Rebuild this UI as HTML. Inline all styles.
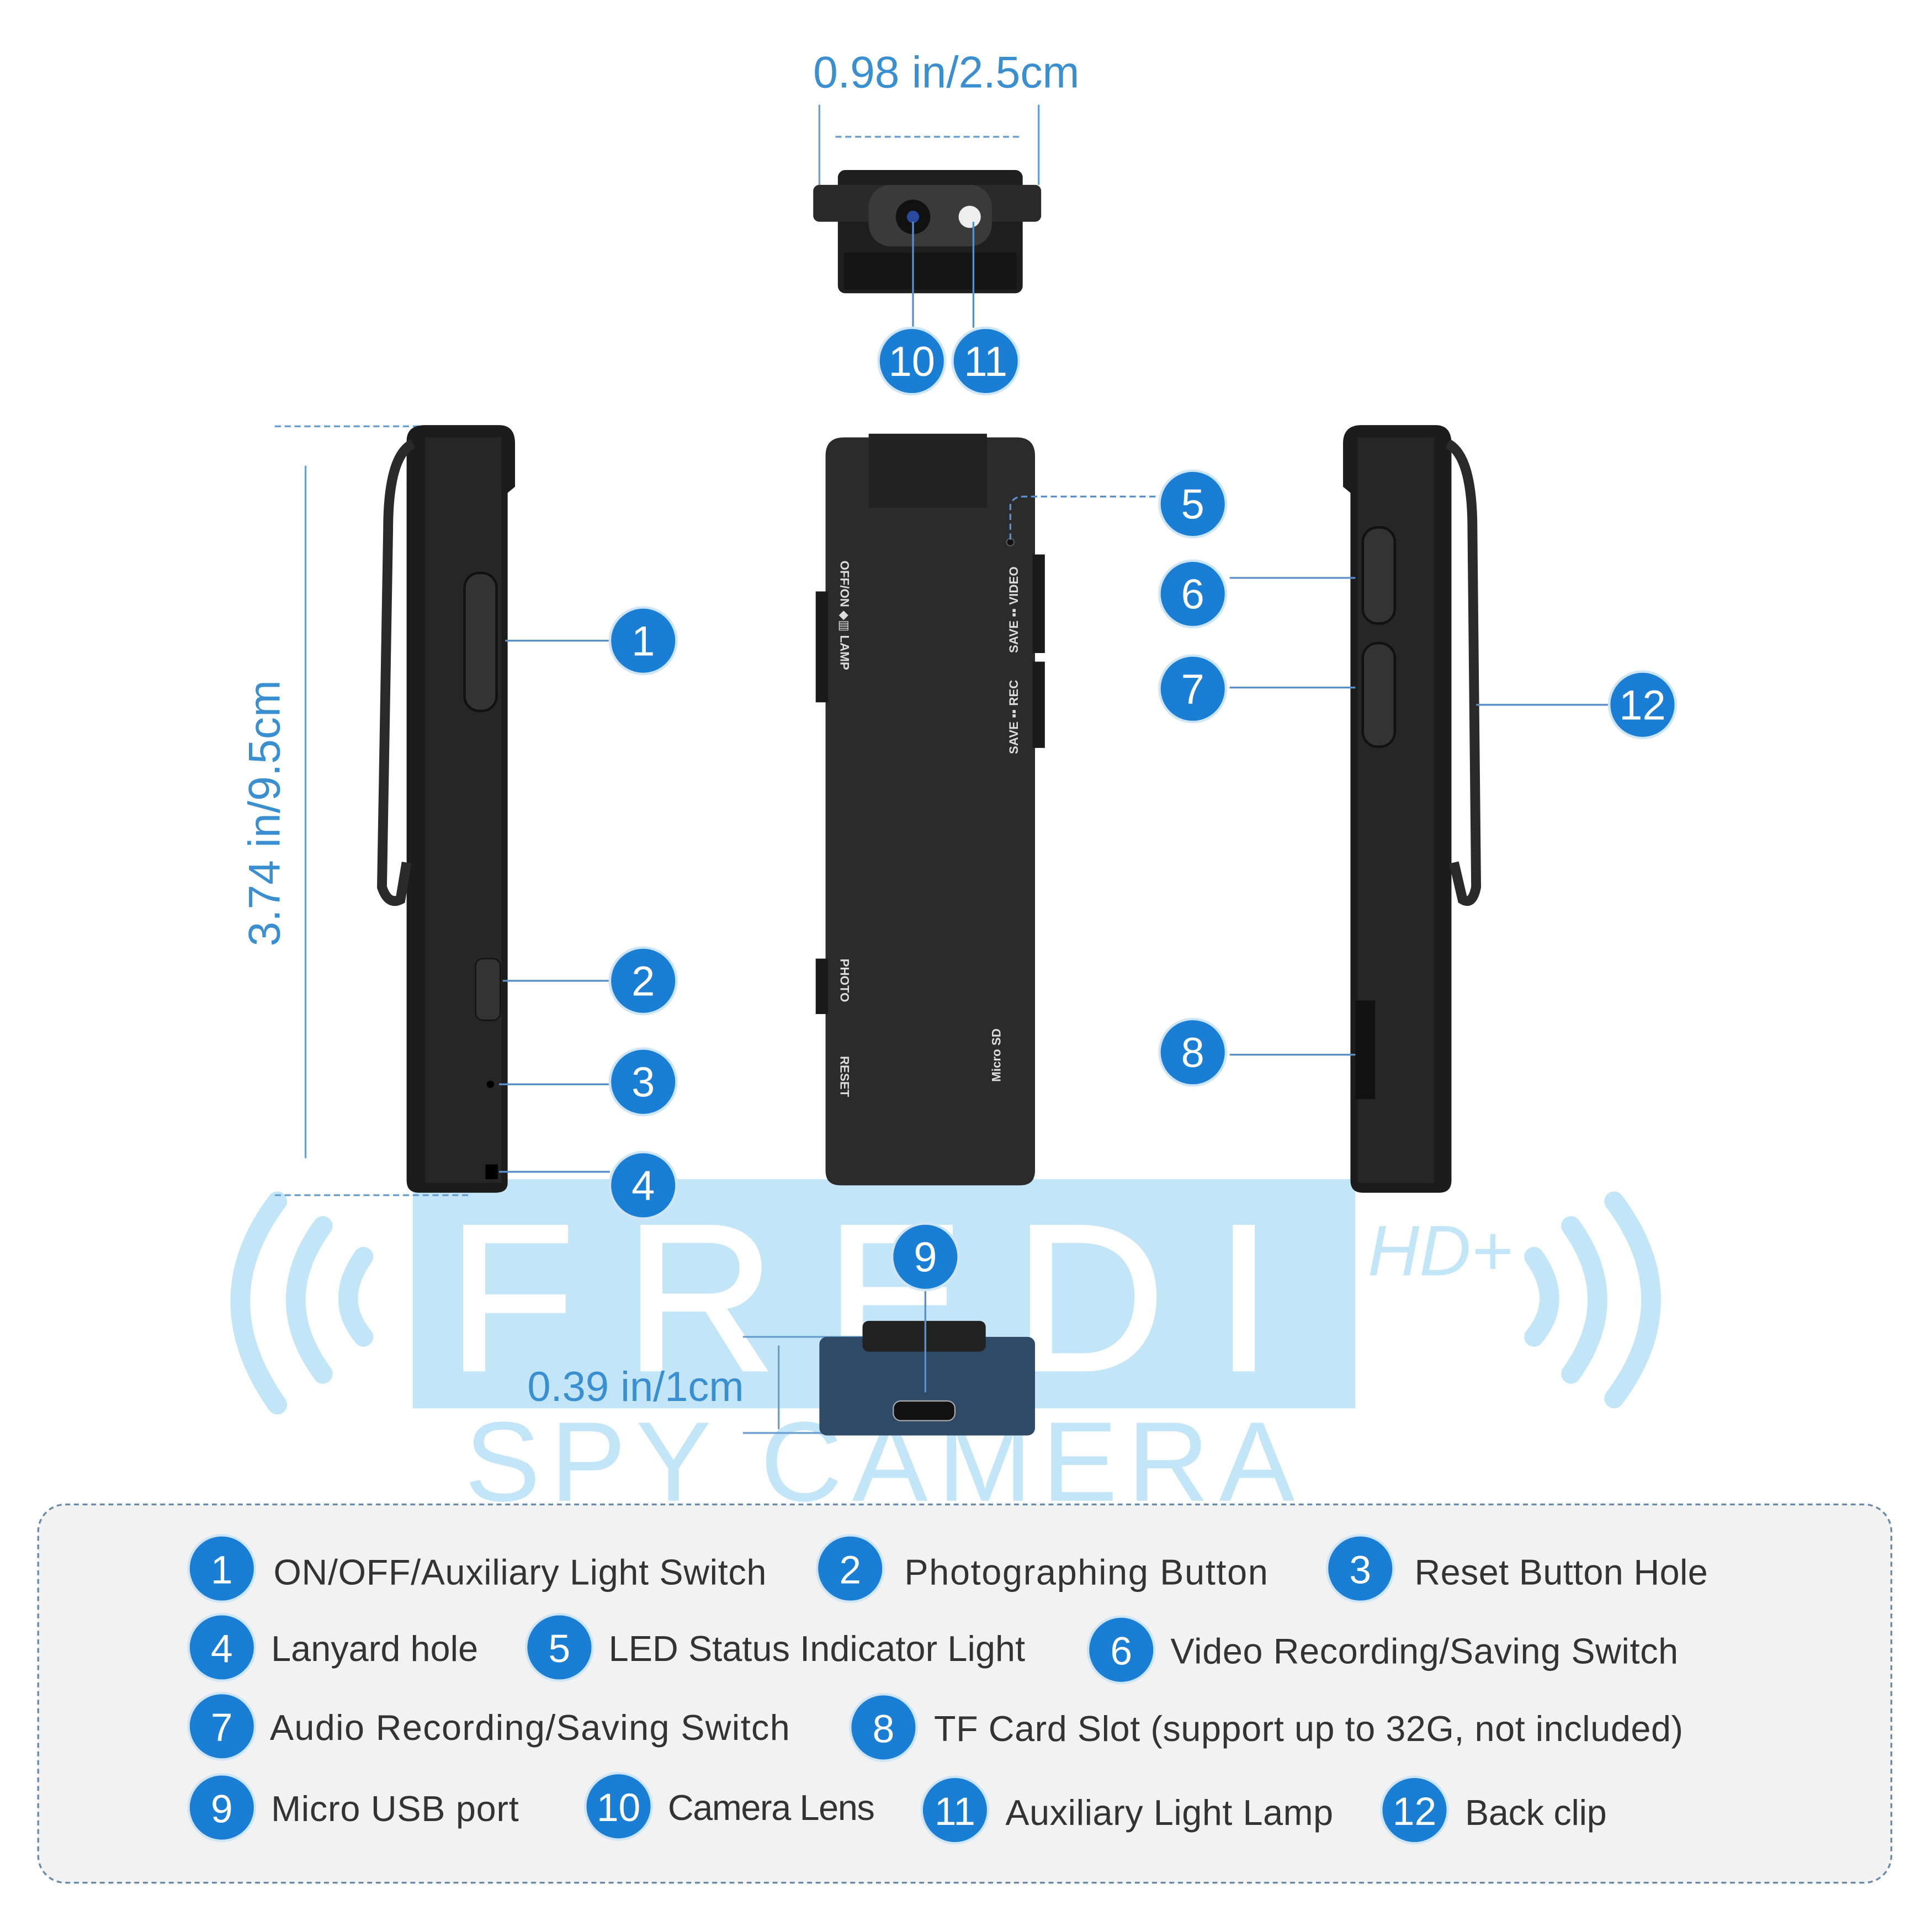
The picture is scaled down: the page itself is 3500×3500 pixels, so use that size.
<!DOCTYPE html>
<html><head><meta charset="utf-8"><style>
html,body{margin:0;padding:0;background:#fff}
svg{display:block}
text{font-family:"Liberation Sans","DejaVu Sans",sans-serif}
</style></head><body>
<svg width="3500" height="3500" viewBox="0 0 1568 1568" xmlns="http://www.w3.org/2000/svg">
<rect width="1568" height="1568" fill="#fff"/>
<!-- watermark -->
<g fill="none" stroke="#c2e5f7" stroke-width="16" stroke-linecap="round">
<path d="M225 975 Q165 1055 225 1140"/><path d="M262 995 Q218 1055 262 1115"/><path d="M295 1020 Q270 1055 295 1085"/>
<path d="M1310 975 Q1370 1055 1310 1135"/><path d="M1275 995 Q1318 1055 1275 1115"/><path d="M1245 1020 Q1270 1055 1245 1085"/>
</g>
<rect x="335" y="957" width="765" height="186" fill="#c2e5f7"/>
<text x="718" y="1112" text-anchor="middle" font-size="170" fill="#fff" stroke="#fff" stroke-width="2" letter-spacing="40">FREDI</text>
<text x="1110" y="1035" font-size="58" font-style="italic" fill="#c2e5f7">HD+</text>
<text x="718" y="1218" text-anchor="middle" font-size="92" fill="#c2e5f7" letter-spacing="8">SPY CAMERA</text>
<!-- dimension lines -->
<g stroke="#6a9fd0" stroke-width="1.5" fill="none">
<line x1="665" y1="85" x2="665" y2="150"/><line x1="843" y1="85" x2="843" y2="150"/>
<line x1="678" y1="111" x2="830" y2="111" stroke-dasharray="5 3"/>
<line x1="223" y1="346" x2="380" y2="346" stroke-dasharray="5 3"/>
<line x1="223" y1="970" x2="380" y2="970" stroke-dasharray="5 3"/>
<line x1="248" y1="378" x2="248" y2="940"/>
<line x1="603" y1="1085" x2="710" y2="1085"/><line x1="603" y1="1163" x2="670" y2="1163"/>
<line x1="632" y1="1092" x2="632" y2="1160"/>
</g>
<text x="768" y="71" text-anchor="middle" font-size="36" fill="#3a8fd0">0.98 in/2.5cm</text>
<text transform="translate(227 660) rotate(-90)" text-anchor="middle" font-size="36" fill="#3a8fd0">3.74 in/9.5cm</text>
<text x="428" y="1137" font-size="34" fill="#3a8fd0">0.39 in/1cm</text>
<!-- top view -->
<rect x="680" y="138" width="150" height="100" rx="6" fill="#1e1e1e"/>
<rect x="660" y="150" width="185" height="30" rx="5" fill="#2a2a2a"/>
<rect x="705" y="150" width="100" height="50" rx="18" fill="#3a3a3a"/>
<circle cx="741" cy="176" r="14" fill="#111"/><circle cx="741" cy="176" r="5" fill="#2a4aa0"/>
<circle cx="787" cy="176" r="9" fill="#eee"/>
<rect x="685" y="205" width="140" height="30" fill="#151515"/>
<!-- left side view -->
<path d="M330 358 Q330 345 345 345 L405 345 Q418 345 418 360 L418 395 L412 400 L412 960 Q412 968 402 968 L340 968 Q330 968 330 958 Z" fill="#1c1c1c"/>
<rect x="345" y="355" width="62" height="605" fill="#262626"/>
<rect x="377" y="465" width="26" height="112" rx="12" fill="#333" stroke="#111" stroke-width="2"/>
<rect x="386" y="778" width="20" height="50" rx="6" fill="#333" stroke="#111"/>
<circle cx="398" cy="880" r="3" fill="#000"/>
<rect x="394" y="945" width="10" height="12" fill="#000"/>
<path d="M335 360 Q315 370 315 430 L310 720 Q315 735 325 730 L330 700" fill="none" stroke="#2a2a2a" stroke-width="8"/>
<!-- center front -->
<path d="M670 370 Q670 355 685 355 L825 355 Q840 355 840 370 L840 950 Q840 962 828 962 L682 962 Q670 962 670 950 Z" fill="#2b2b2b"/>
<rect x="705" y="352" width="96" height="60" fill="#222"/>
<rect x="662" y="480" width="10" height="90" fill="#1a1a1a"/><rect x="838" y="450" width="10" height="80" fill="#1a1a1a"/><rect x="838" y="537" width="10" height="70" fill="#1a1a1a"/>
<rect x="662" y="778" width="10" height="45" fill="#1a1a1a"/>
<circle cx="820" cy="440" r="3" fill="#111" stroke="#555"/>
<g fill="#ddd" font-size="10" font-weight="bold">
<text transform="translate(682 455) rotate(90)">OFF/ON ◆▥ LAMP</text>
<text transform="translate(826 530) rotate(-90)">SAVE ▪▪ VIDEO</text>
<text transform="translate(826 612) rotate(-90)">SAVE ▪▪ REC</text>
<text transform="translate(682 778) rotate(90)">PHOTO</text>
<text transform="translate(682 857) rotate(90)">RESET</text>
<text transform="translate(812 878) rotate(-90)">Micro SD</text>
</g>
<!-- right side view -->
<path d="M1090 360 Q1090 345 1105 345 L1165 345 Q1178 345 1178 360 L1178 958 Q1178 968 1168 968 L1106 968 Q1096 968 1096 958 L1096 400 L1090 395 Z" fill="#1c1c1c"/>
<rect x="1102" y="355" width="62" height="605" fill="#262626"/>
<rect x="1106" y="428" width="26" height="78" rx="12" fill="#333" stroke="#111" stroke-width="2"/>
<rect x="1106" y="522" width="26" height="84" rx="12" fill="#333" stroke="#111" stroke-width="2"/>
<rect x="1100" y="812" width="16" height="80" fill="#111"/>
<path d="M1175 360 Q1195 370 1195 430 L1198 720 Q1195 735 1187 730 L1180 700" fill="none" stroke="#2a2a2a" stroke-width="8"/>
<!-- bottom view -->
<rect x="665" y="1085" width="175" height="80" rx="6" fill="#2e4a66"/>
<rect x="700" y="1072" width="100" height="25" rx="5" fill="#222"/>
<rect x="725" y="1137" width="50" height="16" rx="6" fill="#111" stroke="#aaa"/>
<!-- callout lines -->
<g stroke="#5a8fc8" stroke-width="1.5" fill="none">
<line x1="410" y1="520" x2="495" y2="520"/><line x1="408" y1="796" x2="495" y2="796"/><line x1="405" y1="880" x2="495" y2="880"/><line x1="405" y1="951" x2="495" y2="951"/>
<path d="M820 438 L820 410 Q822 403 830 403 L940 403" stroke-dasharray="5 3"/>
<line x1="998" y1="469" x2="1100" y2="469"/><line x1="998" y1="558" x2="1100" y2="558"/><line x1="998" y1="856" x2="1100" y2="856"/>
<line x1="1198" y1="572" x2="1305" y2="572"/>
<line x1="741" y1="180" x2="741" y2="266"/><line x1="790" y1="180" x2="790" y2="266"/>
<line x1="751" y1="1047" x2="751" y2="1130"/>
</g>
<defs><g id="c"><circle r="27" fill="#1a7fd4" stroke="#cfe6f8" stroke-width="2"/></g></defs>
<g font-size="34" fill="#fff" text-anchor="middle">
<g transform="translate(522 520)"><use href="#c"/><text y="12">1</text></g>
<g transform="translate(522 796)"><use href="#c"/><text y="12">2</text></g>
<g transform="translate(522 878)"><use href="#c"/><text y="12">3</text></g>
<g transform="translate(522 962)"><use href="#c"/><text y="12">4</text></g>
<g transform="translate(968 409)"><use href="#c"/><text y="12">5</text></g>
<g transform="translate(968 482)"><use href="#c"/><text y="12">6</text></g>
<g transform="translate(968 559)"><use href="#c"/><text y="12">7</text></g>
<g transform="translate(968 854)"><use href="#c"/><text y="12">8</text></g>
<g transform="translate(751 1020)"><use href="#c"/><text y="12">9</text></g>
<g transform="translate(740 293)"><use href="#c"/><text y="12">10</text></g>
<g transform="translate(800 293)"><use href="#c"/><text y="12">11</text></g>
<g transform="translate(1333 572)"><use href="#c"/><text y="12">12</text></g>
</g>
<!-- legend box -->
<rect x="31" y="1221" width="1504" height="307" rx="22" fill="#f2f2f2" stroke="#6a8aa8" stroke-width="1.5" stroke-dasharray="4 3"/>
<g font-size="32" fill="#fff" text-anchor="middle">
<g transform="translate(180 1273)"><use href="#c"/><text y="12">1</text></g>
<g transform="translate(690 1273)"><use href="#c"/><text y="12">2</text></g>
<g transform="translate(1104 1273)"><use href="#c"/><text y="12">3</text></g>
<g transform="translate(180 1337)"><use href="#c"/><text y="12">4</text></g>
<g transform="translate(454 1337)"><use href="#c"/><text y="12">5</text></g>
<g transform="translate(910 1339)"><use href="#c"/><text y="12">6</text></g>
<g transform="translate(180 1401)"><use href="#c"/><text y="12">7</text></g>
<g transform="translate(717 1402)"><use href="#c"/><text y="12">8</text></g>
<g transform="translate(180 1467)"><use href="#c"/><text y="12">9</text></g>
<g transform="translate(502 1466)"><use href="#c"/><text y="12">10</text></g>
<g transform="translate(775 1469)"><use href="#c"/><text y="12">11</text></g>
<g transform="translate(1148 1469)"><use href="#c"/><text y="12">12</text></g>
</g>
<g font-size="29" fill="#333">
<text x="222" y="1286" textLength="400">ON/OFF/Auxiliary Light Switch</text>
<text x="734" y="1286" textLength="295">Photographing Button</text>
<text x="1148" y="1286" textLength="238">Reset Button Hole</text>
<text x="220" y="1348" textLength="168">Lanyard hole</text>
<text x="494" y="1348" textLength="338">LED Status Indicator Light</text>
<text x="950" y="1350" textLength="412">Video Recording/Saving Switch</text>
<text x="219" y="1412" textLength="422">Audio Recording/Saving  Switch</text>
<text x="758" y="1413" textLength="608">TF Card Slot (support up to 32G, not included)</text>
<text x="220" y="1478" textLength="201">Micro USB port</text>
<text x="542" y="1477" textLength="168">Camera Lens</text>
<text x="816" y="1481" textLength="266">Auxiliary Light Lamp</text>
<text x="1189" y="1481" textLength="115">Back clip</text>
</g>
</svg>
</body></html>
